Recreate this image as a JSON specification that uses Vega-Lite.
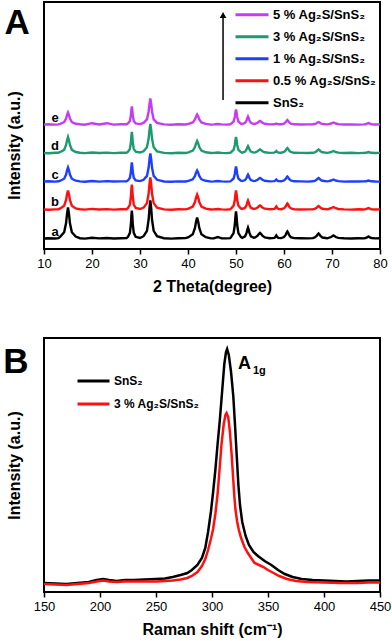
{
  "$schema": "https://vega.github.io/schema/vega-lite/v6.json",
  "padding": {"left": 2, "top": 1, "right": 0, "bottom": 0},
  "background": "white",
  "spacing": 42,
  "resolve": {"scale": {"color": "independent"}, "legend": {"color": "independent"}},
  "config": {
    "view": {"stroke": "black", "strokeWidth": 2},
    "axis": {"labelFont": "Liberation Sans", "labelFontSize": 13, "labelColor": "black", "titleFont": "Liberation Sans", "titleFontSize": 16, "titleFontWeight": "bold", "titleColor": "black", "tickColor": "black", "tickWidth": 1.5, "grid": false, "domain": false, "labelOverlap": false, "labelFlush": false},
    "legend": {"labelFont": "Liberation Sans", "labelFontWeight": "bold", "labelColor": "black", "symbolType": "stroke", "symbolStrokeWidth": 3, "padding": 0, "rowPadding": 0, "labelOffset": 3, "title": null},
    "text": {"font": "Liberation Sans"}
  },
  "datasets": {
    "xrd": [
      {"x":10,"a":10.5,"b":39.5,"c":67.5,"d":96,"e":124.5},
      {"x":11,"a":10.8,"b":39.2,"c":67.8,"d":95.7,"e":124.8},
      {"x":12.3,"a":10.5,"b":39.6,"c":67.4,"d":96.2,"e":124.4},
      {"x":13,"a":10.9,"b":39.8,"c":67.7,"d":96.3,"e":124.6},
      {"x":13.4,"a":12.4,"b":40.6,"c":68.3,"d":97.0,"e":125.2},
      {"x":14.2,"a":16.7,"b":43.3,"c":70.3,"d":99.2,"e":126.9},
      {"x":14.6,"a":26.0,"b":49.0,"c":74.5,"d":104.0,"e":130.5},
      {"x":14.8,"a":35.3,"b":54.7,"c":78.7,"d":108.8,"e":134.1},
      {"x":15.0,"a":41.5,"b":58.5,"c":81.5,"d":112.0,"e":136.5},
      {"x":15.2,"a":35.3,"b":54.7,"c":78.7,"d":108.8,"e":134.1},
      {"x":15.4,"a":26.0,"b":49.0,"c":74.5,"d":104.0,"e":130.5},
      {"x":15.8,"a":16.7,"b":43.3,"c":70.3,"d":99.2,"e":126.9},
      {"x":16.6,"a":12.4,"b":40.6,"c":68.3,"d":97.0,"e":125.2},
      {"x":17.5,"a":10.8,"b":39.8,"c":67.6,"d":96.3,"e":124.7},
      {"x":18.5,"a":10.4,"b":39.4,"c":67.3,"d":95.9,"e":124.3},
      {"x":20.0,"a":11.2,"b":40.1,"c":68.0,"d":96.5,"e":125.8},
      {"x":21.5,"a":10.6,"b":39.5,"c":67.4,"d":96.0,"e":124.5},
      {"x":23.1,"a":11.0,"b":39.9,"c":67.9,"d":96.4,"e":125.8},
      {"x":24.5,"a":10.5,"b":39.4,"c":67.5,"d":95.9,"e":124.4},
      {"x":26.0,"a":10.8,"b":39.7,"c":67.6,"d":96.2,"e":124.7},
      {"x":27.2,"a":10.9,"b":39.8,"c":67.7,"d":96.3,"e":124.8},
      {"x":27.5,"a":12.2,"b":41.0,"c":68.6,"d":97.3,"e":125.6},
      {"x":27.9,"a":16.1,"b":44.5,"c":71.3,"d":100.2,"e":128.1},
      {"x":28.1,"a":24.5,"b":52.0,"c":77.0,"d":106.5,"e":133.5},
      {"x":28.2,"a":32.9,"b":59.5,"c":82.7,"d":112.8,"e":138.9},
      {"x":28.3,"a":38.5,"b":64.5,"c":86.5,"d":117.0,"e":142.5},
      {"x":28.4,"a":32.9,"b":59.5,"c":82.7,"d":112.8,"e":138.9},
      {"x":28.5,"a":24.5,"b":52.0,"c":77.0,"d":106.5,"e":133.5},
      {"x":28.7,"a":16.1,"b":44.5,"c":71.3,"d":100.2,"e":128.1},
      {"x":29.1,"a":12.2,"b":41.0,"c":68.6,"d":97.3,"e":125.6},
      {"x":30.0,"a":11.0,"b":40.0,"c":67.9,"d":96.5,"e":124.9},
      {"x":30.75,"a":12.8,"b":41.4,"c":69.2,"d":97.7,"e":126.1},
      {"x":31.45,"a":18.1,"b":45.9,"c":73.1,"d":101.8,"e":129.7},
      {"x":31.8,"a":29.5,"b":55.5,"c":81.5,"d":110.5,"e":137.5},
      {"x":31.98,"a":40.9,"b":65.1,"c":89.9,"d":119.2,"e":145.3},
      {"x":32.15,"a":48.5,"b":71.5,"c":95.5,"d":125.0,"e":150.5},
      {"x":32.33,"a":40.9,"b":65.1,"c":89.9,"d":119.2,"e":145.3},
      {"x":32.5,"a":29.5,"b":55.5,"c":81.5,"d":110.5,"e":137.5},
      {"x":32.85,"a":18.1,"b":45.9,"c":73.1,"d":101.8,"e":129.7},
      {"x":33.55,"a":12.8,"b":41.4,"c":69.2,"d":97.7,"e":126.1},
      {"x":35.0,"a":10.8,"b":39.6,"c":67.5,"d":96.1,"e":124.6},
      {"x":36.5,"a":10.4,"b":39.3,"c":67.2,"d":95.8,"e":124.3},
      {"x":38.0,"a":10.7,"b":39.7,"c":67.6,"d":96.2,"e":124.7},
      {"x":39.5,"a":10.9,"b":39.6,"c":67.5,"d":96.0,"e":124.5},
      {"x":40.1,"a":11.8,"b":40.4,"c":68.2,"d":96.7,"e":125.1},
      {"x":41.0,"a":14.7,"b":42.5,"c":69.7,"d":98.4,"e":126.5},
      {"x":41.45,"a":21.0,"b":47.0,"c":73.0,"d":102.0,"e":129.5},
      {"x":41.68,"a":27.3,"b":51.5,"c":76.3,"d":105.6,"e":132.5},
      {"x":41.9,"a":31.5,"b":54.5,"c":78.5,"d":108.0,"e":134.5},
      {"x":42.13,"a":27.3,"b":51.5,"c":76.3,"d":105.6,"e":132.5},
      {"x":42.35,"a":21.0,"b":47.0,"c":73.0,"d":102.0,"e":129.5},
      {"x":42.8,"a":14.7,"b":42.5,"c":69.7,"d":98.4,"e":126.5},
      {"x":43.7,"a":11.8,"b":40.4,"c":68.2,"d":96.7,"e":125.1},
      {"x":44.8,"a":10.6,"b":39.5,"c":67.4,"d":96.0,"e":124.4},
      {"x":45.4,"a":10.8,"b":39.6,"c":67.6,"d":96.1,"e":124.6},
      {"x":45.8,"a":11.3,"b":39.8,"c":67.8,"d":96.3,"e":124.8},
      {"x":46.2,"a":12.0,"b":40.0,"c":68.0,"d":96.5,"e":125.0},
      {"x":46.6,"a":11.3,"b":39.8,"c":67.8,"d":96.3,"e":124.8},
      {"x":47.0,"a":10.8,"b":39.6,"c":67.6,"d":96.1,"e":124.6},
      {"x":48.0,"a":10.6,"b":39.4,"c":67.4,"d":95.9,"e":124.4},
      {"x":48.8,"a":10.9,"b":39.7,"c":67.6,"d":96.2,"e":124.7},
      {"x":49.0,"a":12.1,"b":40.6,"c":68.4,"d":97.0,"e":125.4},
      {"x":49.5,"a":15.9,"b":43.3,"c":70.5,"d":99.2,"e":127.5},
      {"x":49.75,"a":24.0,"b":49.0,"c":75.0,"d":104.0,"e":132.0},
      {"x":49.88,"a":32.1,"b":54.7,"c":79.5,"d":108.8,"e":136.5},
      {"x":50.0,"a":37.5,"b":58.5,"c":82.5,"d":112.0,"e":139.5},
      {"x":50.13,"a":32.1,"b":54.7,"c":79.5,"d":108.8,"e":136.5},
      {"x":50.25,"a":24.0,"b":49.0,"c":75.0,"d":104.0,"e":132.0},
      {"x":50.5,"a":15.9,"b":43.3,"c":70.5,"d":99.2,"e":127.5},
      {"x":51.0,"a":12.1,"b":40.6,"c":68.4,"d":97.0,"e":125.4},
      {"x":51.3,"a":11.2,"b":40.0,"c":67.9,"d":96.4,"e":125.0},
      {"x":51.9,"a":12.7,"b":41.3,"c":68.9,"d":97.4,"e":126.1},
      {"x":52.2,"a":16.0,"b":44.0,"c":71.0,"d":99.5,"e":128.5},
      {"x":52.35,"a":19.3,"b":46.7,"c":73.1,"d":101.6,"e":130.9},
      {"x":52.5,"a":21.5,"b":48.5,"c":74.5,"d":103.0,"e":132.5},
      {"x":52.65,"a":19.3,"b":46.7,"c":73.1,"d":101.6,"e":130.9},
      {"x":52.8,"a":16.0,"b":44.0,"c":71.0,"d":99.5,"e":128.5},
      {"x":53.1,"a":12.7,"b":41.3,"c":68.9,"d":97.4,"e":126.1},
      {"x":53.7,"a":11.2,"b":40.0,"c":67.9,"d":96.4,"e":125.0},
      {"x":54.0,"a":11.6,"b":40.3,"c":68.2,"d":96.7,"e":125.2},
      {"x":54.5,"a":13.25,"b":41.5,"c":69.25,"d":97.75,"e":126.25},
      {"x":54.75,"a":14.9,"b":42.7,"c":70.3,"d":98.8,"e":127.3},
      {"x":55.0,"a":16.0,"b":43.5,"c":71.0,"d":99.5,"e":128.0},
      {"x":55.25,"a":14.9,"b":42.7,"c":70.3,"d":98.8,"e":127.3},
      {"x":55.5,"a":13.25,"b":41.5,"c":69.25,"d":97.75,"e":126.25},
      {"x":56.0,"a":11.6,"b":40.3,"c":68.2,"d":96.7,"e":125.2},
      {"x":57.0,"a":10.8,"b":39.7,"c":67.6,"d":96.1,"e":124.6},
      {"x":58.0,"a":11.1,"b":40.1,"c":67.9,"d":96.4,"e":124.7},
      {"x":58.2,"a":12.0,"b":41.0,"c":68.5,"d":97.0,"e":125.0},
      {"x":58.4,"a":13.5,"b":42.5,"c":69.5,"d":98.0,"e":125.5},
      {"x":58.6,"a":12.0,"b":41.0,"c":68.5,"d":97.0,"e":125.0},
      {"x":58.8,"a":11.1,"b":40.1,"c":67.9,"d":96.4,"e":124.7},
      {"x":59.4,"a":10.9,"b":39.8,"c":67.7,"d":96.3,"e":124.8},
      {"x":60.0,"a":11.9,"b":40.7,"c":68.5,"d":97.0,"e":125.4},
      {"x":60.35,"a":14.0,"b":42.5,"c":70.0,"d":98.5,"e":126.75},
      {"x":60.53,"a":16.1,"b":44.3,"c":71.5,"d":100.0,"e":128.1},
      {"x":60.7,"a":17.5,"b":45.5,"c":72.5,"d":101.0,"e":129.0},
      {"x":60.88,"a":16.1,"b":44.3,"c":71.5,"d":100.0,"e":128.1},
      {"x":61.05,"a":14.0,"b":42.5,"c":70.0,"d":98.5,"e":126.75},
      {"x":61.4,"a":11.9,"b":40.7,"c":68.5,"d":97.0,"e":125.4},
      {"x":62.1,"a":10.9,"b":39.8,"c":67.7,"d":96.2,"e":124.7},
      {"x":63.5,"a":10.7,"b":39.5,"c":67.6,"d":96.1,"e":124.5},
      {"x":65.0,"a":10.6,"b":39.6,"c":67.4,"d":96.0,"e":124.6},
      {"x":66.0,"a":10.9,"b":39.8,"c":67.7,"d":96.2,"e":124.7},
      {"x":66.4,"a":11.5,"b":40.2,"c":68.2,"d":96.7,"e":125.0},
      {"x":66.8,"a":13.0,"b":41.25,"c":69.25,"d":97.75,"e":125.75},
      {"x":67.0,"a":14.5,"b":42.3,"c":70.3,"d":98.8,"e":126.5},
      {"x":67.2,"a":15.5,"b":43.0,"c":71.0,"d":99.5,"e":127.0},
      {"x":67.4,"a":14.5,"b":42.3,"c":70.3,"d":98.8,"e":126.5},
      {"x":67.6,"a":13.0,"b":41.25,"c":69.25,"d":97.75,"e":125.75},
      {"x":68.0,"a":11.5,"b":40.2,"c":68.2,"d":96.7,"e":125.0},
      {"x":69.0,"a":10.8,"b":39.6,"c":67.6,"d":96.1,"e":124.6},
      {"x":69.3,"a":11.1,"b":40.0,"c":67.9,"d":96.4,"e":124.9},
      {"x":69.8,"a":12.0,"b":40.75,"c":68.5,"d":97.0,"e":125.5},
      {"x":70.3,"a":13.5,"b":42.0,"c":69.5,"d":98.0,"e":126.5},
      {"x":70.8,"a":12.0,"b":40.75,"c":68.5,"d":97.0,"e":125.5},
      {"x":71.3,"a":11.1,"b":40.0,"c":67.9,"d":96.4,"e":124.9},
      {"x":72.5,"a":10.7,"b":39.6,"c":67.4,"d":96.0,"e":124.5},
      {"x":74.0,"a":10.5,"b":39.4,"c":67.6,"d":96.2,"e":124.6},
      {"x":75.5,"a":10.8,"b":39.7,"c":67.5,"d":95.9,"e":124.4},
      {"x":76.6,"a":10.6,"b":39.5,"c":67.6,"d":96.1,"e":124.6},
      {"x":77.0,"a":11.0,"b":39.8,"c":67.7,"d":96.2,"e":124.8},
      {"x":77.3,"a":11.5,"b":40.3,"c":68.0,"d":96.5,"e":125.3},
      {"x":77.6,"a":12.5,"b":41.0,"c":68.5,"d":97.0,"e":126.0},
      {"x":77.9,"a":11.5,"b":40.3,"c":68.0,"d":96.5,"e":125.3},
      {"x":78.2,"a":11.0,"b":39.8,"c":67.7,"d":96.2,"e":124.8},
      {"x":79.0,"a":10.6,"b":39.5,"c":67.5,"d":96.0,"e":124.5},
      {"x":80.0,"a":10.8,"b":39.6,"c":67.4,"d":96.1,"e":124.6}
    ],
    "raman": [
      {"s":"SnS₂","x":150,"y":9},{"s":"SnS₂","x":160,"y":8.5},{"s":"SnS₂","x":170,"y":8},{"s":"SnS₂","x":180,"y":9},{"s":"SnS₂","x":190,"y":10},{"s":"SnS₂","x":197,"y":12},{"s":"SnS₂","x":203,"y":13},{"s":"SnS₂","x":208,"y":12},{"s":"SnS₂","x":215,"y":11},{"s":"SnS₂","x":222,"y":12},{"s":"SnS₂","x":230,"y":12},{"s":"SnS₂","x":240,"y":12.5},{"s":"SnS₂","x":250,"y":13},{"s":"SnS₂","x":258,"y":13.5},{"s":"SnS₂","x":265,"y":15},{"s":"SnS₂","x":272,"y":17},{"s":"SnS₂","x":278,"y":19},{"s":"SnS₂","x":282,"y":22},{"s":"SnS₂","x":287,"y":27},{"s":"SnS₂","x":291,"y":34},{"s":"SnS₂","x":294,"y":44},{"s":"SnS₂","x":296.5,"y":60},{"s":"SnS₂","x":299,"y":80},{"s":"SnS₂","x":301,"y":100},{"s":"SnS₂","x":303,"y":122},{"s":"SnS₂","x":305,"y":148},{"s":"SnS₂","x":307,"y":172},{"s":"SnS₂","x":309,"y":200},{"s":"SnS₂","x":311,"y":228},{"s":"SnS₂","x":312.5,"y":240},{"s":"SnS₂","x":313.5,"y":243},{"s":"SnS₂","x":315,"y":237},{"s":"SnS₂","x":317,"y":220},{"s":"SnS₂","x":319,"y":196},{"s":"SnS₂","x":320.5,"y":168},{"s":"SnS₂","x":322,"y":138},{"s":"SnS₂","x":323.5,"y":108},{"s":"SnS₂","x":325,"y":87},{"s":"SnS₂","x":327,"y":70},{"s":"SnS₂","x":330,"y":56},{"s":"SnS₂","x":333,"y":47},{"s":"SnS₂","x":337,"y":40},{"s":"SnS₂","x":341,"y":36},{"s":"SnS₂","x":347,"y":31},{"s":"SnS₂","x":353,"y":27},{"s":"SnS₂","x":359,"y":22},{"s":"SnS₂","x":365,"y":18},{"s":"SnS₂","x":372,"y":15},{"s":"SnS₂","x":380,"y":13},{"s":"SnS₂","x":390,"y":12},{"s":"SnS₂","x":400,"y":11.5},{"s":"SnS₂","x":410,"y":11},{"s":"SnS₂","x":420,"y":10.5},{"s":"SnS₂","x":430,"y":11},{"s":"SnS₂","x":440,"y":11.5},{"s":"SnS₂","x":450,"y":11.5},
      {"s":"3 % Ag₂S/SnS₂","x":150,"y":8},{"s":"3 % Ag₂S/SnS₂","x":160,"y":7.5},{"s":"3 % Ag₂S/SnS₂","x":170,"y":7},{"s":"3 % Ag₂S/SnS₂","x":180,"y":8},{"s":"3 % Ag₂S/SnS₂","x":190,"y":9},{"s":"3 % Ag₂S/SnS₂","x":197,"y":10.5},{"s":"3 % Ag₂S/SnS₂","x":203,"y":11.5},{"s":"3 % Ag₂S/SnS₂","x":208,"y":10.5},{"s":"3 % Ag₂S/SnS₂","x":215,"y":10},{"s":"3 % Ag₂S/SnS₂","x":222,"y":10.5},{"s":"3 % Ag₂S/SnS₂","x":230,"y":10.5},{"s":"3 % Ag₂S/SnS₂","x":240,"y":10.5},{"s":"3 % Ag₂S/SnS₂","x":250,"y":10.5},{"s":"3 % Ag₂S/SnS₂","x":258,"y":11},{"s":"3 % Ag₂S/SnS₂","x":265,"y":11.5},{"s":"3 % Ag₂S/SnS₂","x":272,"y":12.5},{"s":"3 % Ag₂S/SnS₂","x":278,"y":14},{"s":"3 % Ag₂S/SnS₂","x":282,"y":16},{"s":"3 % Ag₂S/SnS₂","x":287,"y":20},{"s":"3 % Ag₂S/SnS₂","x":291,"y":26},{"s":"3 % Ag₂S/SnS₂","x":294,"y":33},{"s":"3 % Ag₂S/SnS₂","x":296.5,"y":42},{"s":"3 % Ag₂S/SnS₂","x":299,"y":53},{"s":"3 % Ag₂S/SnS₂","x":301,"y":63},{"s":"3 % Ag₂S/SnS₂","x":303,"y":78},{"s":"3 % Ag₂S/SnS₂","x":305,"y":98},{"s":"3 % Ag₂S/SnS₂","x":306.7,"y":122},{"s":"3 % Ag₂S/SnS₂","x":308.5,"y":148},{"s":"3 % Ag₂S/SnS₂","x":310.5,"y":168},{"s":"3 % Ag₂S/SnS₂","x":312,"y":177},{"s":"3 % Ag₂S/SnS₂","x":313,"y":179},{"s":"3 % Ag₂S/SnS₂","x":314.5,"y":175},{"s":"3 % Ag₂S/SnS₂","x":316,"y":160},{"s":"3 % Ag₂S/SnS₂","x":317.5,"y":138},{"s":"3 % Ag₂S/SnS₂","x":319,"y":112},{"s":"3 % Ag₂S/SnS₂","x":320,"y":95},{"s":"3 % Ag₂S/SnS₂","x":321,"y":82},{"s":"3 % Ag₂S/SnS₂","x":322.5,"y":70},{"s":"3 % Ag₂S/SnS₂","x":324,"y":62},{"s":"3 % Ag₂S/SnS₂","x":326,"y":54},{"s":"3 % Ag₂S/SnS₂","x":329,"y":45},{"s":"3 % Ag₂S/SnS₂","x":332,"y":39},{"s":"3 % Ag₂S/SnS₂","x":335,"y":34},{"s":"3 % Ag₂S/SnS₂","x":338,"y":29},{"s":"3 % Ag₂S/SnS₂","x":342,"y":27},{"s":"3 % Ag₂S/SnS₂","x":346,"y":25},{"s":"3 % Ag₂S/SnS₂","x":350,"y":22},{"s":"3 % Ag₂S/SnS₂","x":355,"y":19},{"s":"3 % Ag₂S/SnS₂","x":360,"y":16},{"s":"3 % Ag₂S/SnS₂","x":367,"y":13},{"s":"3 % Ag₂S/SnS₂","x":375,"y":11},{"s":"3 % Ag₂S/SnS₂","x":385,"y":10},{"s":"3 % Ag₂S/SnS₂","x":400,"y":9.5},{"s":"3 % Ag₂S/SnS₂","x":415,"y":9},{"s":"3 % Ag₂S/SnS₂","x":430,"y":9},{"s":"3 % Ag₂S/SnS₂","x":440,"y":9.5},{"s":"3 % Ag₂S/SnS₂","x":450,"y":9.5}
    ]
  },
  "vconcat": [
    {
      "width": 336,
      "height": 247,
      "layer": [
        {
          "data": {"name": "xrd"},
          "transform": [{"fold": ["a", "b", "c", "d", "e"], "as": ["key", "val"]}],
          "mark": {"type": "line", "strokeWidth": 2.4, "clip": true},
          "encoding": {
            "x": {"field": "x", "type": "quantitative", "scale": {"domain": [10, 80], "nice": false, "zero": false},
              "axis": {"title": "2 Theta(degree)", "values": [10,15,20,25,30,35,40,45,50,55,60,65,70,75,80], "labelExpr": "datum.value % 10 == 0 ? datum.label : ''", "tickSize": {"condition": {"test": "datum.value % 10 == 0", "value": 5}, "value": 3}, "labelPadding": 3, "titlePadding": 8}},
            "y": {"field": "val", "type": "quantitative", "scale": {"domain": [0, 247], "nice": false, "zero": false},
              "axis": {"title": "Intensity (a.u.)", "labels": false, "ticks": false, "titlePadding": 22, "titleY": 143}},
            "color": {"field": "key", "type": "nominal",
              "scale": {"domain": ["e", "d", "c", "b", "a"], "range": ["#C43CF5", "#1E9A70", "#1F3FFF", "#FF1010", "#000000"]},
              "legend": {"orient": "none", "legendX": 190, "legendY": 2, "symbolSize": 1089, "clipHeight": 21.7, "labelFontSize": 13,
                "labelExpr": "datum.label == 'e' ? '5 % Ag₂S/SnS₂' : datum.label == 'd' ? '3 % Ag₂S/SnS₂' : datum.label == 'c' ? '1 % Ag₂S/SnS₂' : datum.label == 'b' ? '0.5 % Ag₂S/SnS₂' : 'SnS₂'"}}
          }
        },
        {
          "data": {"name": "xrd"},
          "transform": [{"fold": ["a", "b", "c", "d", "e"], "as": ["key", "val"]}, {"filter": "datum.x == 12.3"}],
          "mark": {"type": "text", "fontSize": 13, "fontWeight": "bold", "color": "black", "dy": -3, "baseline": "alphabetic", "align": "center"},
          "encoding": {
            "x": {"field": "x", "type": "quantitative", "title": "2 Theta(degree)"},
            "y": {"field": "val", "type": "quantitative", "title": "Intensity (a.u.)"},
            "text": {"field": "key"}
          }
        },
        {
          "data": {"values": [{}]},
          "mark": {"type": "rule", "color": "black", "strokeWidth": 1.5},
          "encoding": {"x": {"datum": 47.3}, "y": {"datum": 149}, "y2": {"datum": 232}}
        },
        {
          "data": {"values": [{}]},
          "mark": {"type": "point", "shape": "triangle-up", "filled": true, "color": "black", "size": 45, "opacity": 1},
          "encoding": {"x": {"datum": 47.3}, "y": {"datum": 234}}
        },
        {
          "data": {"values": [{}]},
          "mark": {"type": "text", "text": "A", "fontSize": 35, "fontWeight": "bold", "color": "black", "align": "center", "baseline": "alphabetic"},
          "encoding": {"x": {"datum": 4.4}, "y": {"datum": 215.5}}
        }
      ]
    },
    {
      "width": 336,
      "height": 254,
      "layer": [
        {
          "data": {"name": "raman"},
          "mark": {"type": "line", "strokeWidth": 2.5, "clip": true},
          "encoding": {
            "x": {"field": "x", "type": "quantitative", "scale": {"domain": [150, 450], "nice": false, "zero": false},
              "axis": {"title": "Raman shift (cm⁻¹)", "values": [150,175,200,225,250,275,300,325,350,375,400,425,450], "labelExpr": "datum.value % 50 == 0 ? datum.label : ''", "tickSize": {"condition": {"test": "datum.value % 50 == 0", "value": 5}, "value": 3}, "labelPadding": 3, "titlePadding": 8}},
            "y": {"field": "y", "type": "quantitative", "scale": {"domain": [0, 254], "nice": false, "zero": false},
              "axis": {"title": "Intensity (a.u.)", "labels": false, "ticks": false, "titlePadding": 22}},
            "color": {"field": "s", "type": "nominal",
              "scale": {"domain": ["SnS₂", "3 % Ag₂S/SnS₂"], "range": ["#000000", "#FF1010"]},
              "legend": {"orient": "none", "legendX": 32, "legendY": 31.5, "symbolSize": 1024, "clipHeight": 23, "labelFontSize": 12}}
          }
        },
        {
          "data": {"values": [{}]},
          "mark": {"type": "text", "text": "A", "fontSize": 18, "fontWeight": "bold", "color": "black", "align": "left", "baseline": "alphabetic"},
          "encoding": {"x": {"datum": 323.2}, "y": {"datum": 223}}
        },
        {
          "data": {"values": [{}]},
          "mark": {"type": "text", "text": "1g", "fontSize": 11, "fontWeight": "bold", "color": "black", "align": "left", "baseline": "alphabetic"},
          "encoding": {"x": {"datum": 336.6}, "y": {"datum": 218}}
        },
        {
          "data": {"values": [{}]},
          "mark": {"type": "text", "text": "B", "fontSize": 35, "fontWeight": "bold", "color": "black", "align": "center", "baseline": "alphabetic"},
          "encoding": {"x": {"datum": 125}, "y": {"datum": 219}}
        }
      ]
    }
  ]
}
